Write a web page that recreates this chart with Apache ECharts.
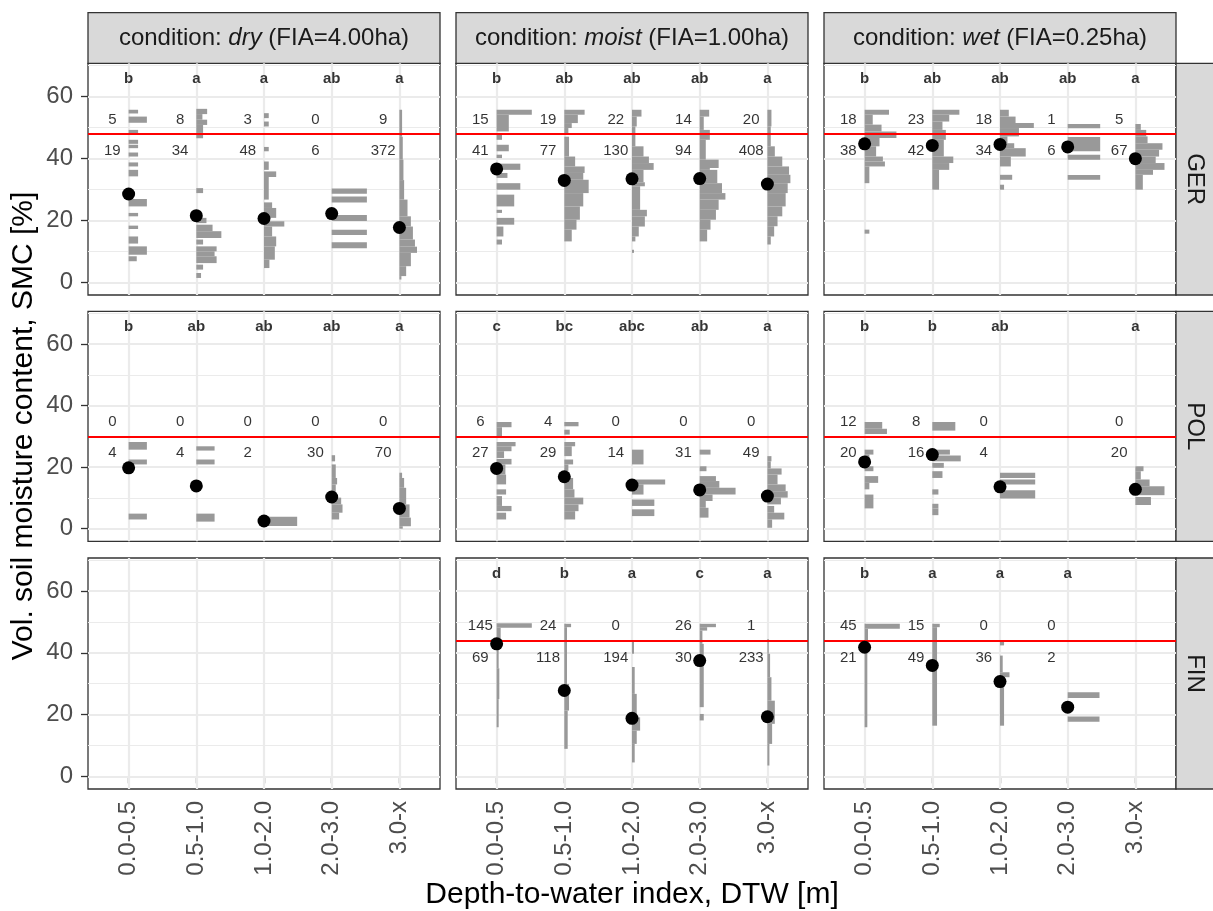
<!DOCTYPE html>
<html>
<head>
<meta charset="utf-8">
<script src="https://cdn.jsdelivr.net/npm/echarts@6/dist/echarts.min.js"></script>
<style>
  html, body { margin: 0; padding: 0; background: #fff; }
  #chart { width: 1213px; height: 911px; }
</style>
</head>
<body>
<div id="chart"></div>
<script>
// categories and facets
const dtwClasses = ['0.0-0.5', '0.5-1.0', '1.0-2.0', '2.0-3.0', '3.0-x'];
const regions = ['GER', 'POL', 'FIN'];
const conditions = ['dry', 'moist', 'wet'];
const fiaAreas = ['4.00ha', '1.00ha', '0.25ha'];
const thresholds = [48, 30, 44]; // SMC threshold per region (red line)
const yTicks = [0, 20, 40, 60];
const yMinor = [10, 30, 50, 70];

// medians (black dots)
const medGERdry = [28.5, 21.5, 20.6, 22.2, 17.7];
const medGERmoist = [36.6, 32.9, 33.4, 33.5, 31.7];
const medGERwet = [44.7, 44.2, 44.5, 43.7, 39.9];
const medPOLdry = [19.8, 13.9, 2.5, 10.3, 6.6];
const medPOLmoist = [19.6, 16.9, 14.2, 12.6, 10.6];
const medPOLwet = [21.7, 24.1, 13.6, null, 12.8];
const medFINmoist = [42.9, 27.8, 18.8, 37.5, 19.3];
const medFINwet = [41.8, 35.9, 30.7, 22.4, null];

// group letters
const letGERdry = ['b', 'a', 'a', 'ab', 'a'];
const letGERmoist = ['b', 'ab', 'ab', 'ab', 'a'];
const letGERwet = ['b', 'ab', 'ab', 'ab', 'a'];
const letPOLdry = ['b', 'ab', 'ab', 'ab', 'a'];
const letPOLmoist = ['c', 'bc', 'abc', 'ab', 'a'];
const letPOLwet = ['b', 'b', 'ab', null, 'a'];
const letFINmoist = ['d', 'b', 'a', 'c', 'a'];
const letFINwet = ['b', 'a', 'a', 'a', null];

// counts above / below threshold
const aboveGERdry = [5, 8, 3, 0, 9];
const belowGERdry = [19, 34, 48, 6, 372];
const aboveGERmoist = [15, 19, 22, 14, 20];
const belowGERmoist = [41, 77, 130, 94, 408];
const aboveGERwet = [18, 23, 18, 1, 5];
const belowGERwet = [38, 42, 34, 6, 67];
const abovePOLdry = [0, 0, 0, 0, 0];
const belowPOLdry = [4, 4, 2, 30, 70];
const abovePOLmoist = [6, 4, 0, 0, 0];
const belowPOLmoist = [27, 29, 14, 31, 49];
const abovePOLwet = [12, 8, 0, null, 0];
const belowPOLwet = [20, 16, 4, null, 20];
const aboveFINmoist = [145, 24, 0, 26, 1];
const belowFINmoist = [69, 118, 194, 30, 233];
const aboveFINwet = [45, 15, 0, 0, null];
const belowFINwet = [21, 49, 36, 2, null];

// histograms: per class, bins [smcLow, smcHigh, relative length (1/100 of class spacing)]
const histGERdry = [
  [[54.5,55.7,14],[51.5,53.5,27],[48,49.2,14],[44.7,46,14],[43.3,44.4,14],[40.6,41.9,14],[37.4,38.7,14],[34.2,36.3,14],[24.5,26.9,27],[21.3,22.4,14],[17.2,18.3,14],[12.5,14.8,14],[8.9,11.6,27],[6.8,8.4,12]],
  [[54.3,56,16],[52.5,54.3,9],[50.8,52.5,16],[48.5,50.8,10],[46.5,48.5,10],[28.8,30.4,10],[19.1,20.8,15],[16.5,18.6,24],[14.3,16.5,37],[12.2,13.8,10],[10,11.6,30],[8.4,10,27],[6.2,8.4,30],[4.1,5.7,10],[1.4,3,7]],
  [[53,54.6,7],[50.3,51.9,7],[42.3,43.7,7],[36.3,39,7],[34,35.8,18],[26.7,34,7],[24,25.8,12],[20.8,24,18],[18,19.7,30],[14.8,18,12],[11.6,14.8,18],[7.3,11.6,16],[4.6,7.3,8]],
  [[28.6,30.3,52],[25.8,27.7,52],[19.8,21.7,52],[15.3,17,52],[11,12.9,52]],
  [[47,55.7,4],[39.6,47,5],[33,39.6,6],[26.7,33,7],[21.3,26.7,12],[18,21.3,17],[13.8,18,20],[11.5,13.8,23],[9.5,11.5,26],[5.2,9.5,17],[2,5.2,10],[0.9,2,3]]
];
const histGERmoist = [
  [[54.1,55.7,52],[48.7,54.1,18],[46,47.6,8],[42.3,44.4,18],[40.1,41.2,8],[36.3,38.3,35],[33.7,35.3,16],[29.9,32,35],[24.5,28.3,26],[22.4,23.4,8],[18.6,20.8,26],[14.8,18,10],[12.2,13.8,8]],
  [[54.1,55.7,30],[51.4,54.1,20],[49.8,51.4,11],[47.6,49.8,6],[40.6,47,7],[37.4,40.6,16],[35.3,37.4,30],[33.1,35.3,28],[28.8,33.1,36],[24.5,28.8,28],[20.2,24.5,23],[17,20.2,18],[13.2,17,11]],
  [[53.5,55.7,14],[50.3,53.5,7],[43.9,50.3,5],[40.6,43.9,17],[38.5,40.6,25],[36.3,38.5,32],[32.3,36.3,17],[31,32.3,19],[23.4,31,12],[21.3,23.4,22],[18,21.3,19],[14.8,18,10],[13.2,14.8,5],[9.5,10.5,3]],
  [[53.5,55.7,14],[49.2,53.5,6],[46,49.2,15],[39.6,46,9],[36.9,39.6,28],[36.3,36.9,15],[32,36.3,26],[28.8,32,33],[26.7,28.8,38],[23.4,26.7,28],[20.2,23.4,24],[17,20.2,16],[13.2,17,11]],
  [[50.3,55.7,6],[43.9,50.3,5],[40.6,43.9,11],[37.4,40.6,22],[34.7,37.4,32],[32,34.7,34],[28.8,32,30],[24.5,28.8,27],[21.3,24.5,22],[18.1,21.3,15],[14.8,18.1,10],[12.2,14.8,5]]
];
const histGERwet = [
  [[54.1,55.7,36],[50.9,54.1,12],[48.7,50.9,25],[46.6,48.7,47],[43.9,46.6,22],[40.6,43.9,17],[39,40.6,27],[37.4,39,30],[32,37.4,7],[15.7,17,7]],
  [[54.1,55.7,40],[51.9,54.1,25],[49.2,51.9,15],[46,49.2,20],[40.6,46,17],[38.5,40.6,31],[36.3,38.5,25],[29.9,36.3,10]],
  [[53.5,55.7,13],[51.4,53.5,23],[49.8,51.4,50],[47.1,49.8,28],[44.9,47.1,11],[43.3,44.9,21],[40.6,43.3,38],[37.4,40.6,16],[33.1,34.7,18],[29.9,31.5,6]],
  [[49.7,51.1,48],[42.3,46.9,48],[39.6,41.2,48],[33.1,34.6,48]],
  [[49.2,51.1,8],[47.1,49.2,16],[44.9,47.1,18],[42.8,44.9,40],[40.6,42.8,35],[38.5,40.6,30],[36.3,38.5,43],[34.7,36.3,26],[29.9,34.7,11]]
];
const histPOLdry = [
  [[25.7,28.2,27],[20.9,22.5,27],[3,4.9,27]],
  [[25.4,26.8,27],[20.9,22.5,27],[2.3,4.9,27]],
  [[0.9,3.9,49]],
  [[21.9,23.9,5],[16.5,20.9,6],[14.4,16.5,8],[10.1,14.4,6],[7.9,10.1,14],[5.2,7.9,16],[3,5.2,11]],
  [[16.5,18.2,4],[13.3,16.5,7],[7.9,13.3,10],[3.6,7.9,15],[0.8,3.6,17],[0,0.8,5]]
];
const histPOLmoist = [
  [[33,34.7,22],[30,33,8],[26.8,28.2,28],[25.2,26.8,22],[23,25.2,11],[20.9,22.7,22],[17.6,20.9,13],[14.4,17.6,14],[11.1,12.8,14],[7.4,10.6,8],[5.7,7.4,22],[3,5.2,14]],
  [[33.3,34.7,21],[30.6,32.2,8],[26.8,28.2,16],[23.6,26.8,11],[20.9,22.5,13],[18.7,20.9,6],[12.8,16.5,13],[10.1,12.8,15],[7.9,10.1,28],[5.7,7.9,21],[3,5.7,16]],
  [[20.9,25.7,17],[14.4,16,49],[11.1,14.4,17],[7.4,9.5,33],[4.1,6.3,33]],
  [[24.1,25.7,16],[18.7,20.3,10],[15.5,17.1,24],[13.3,15.5,29],[11.1,13.3,53],[9,11.1,19],[6.8,9,9],[3.6,6.8,13]],
  [[21.9,23.6,6],[19.6,21.9,5],[17.6,19.6,21],[14.4,17.6,15],[12.2,14.4,27],[10.1,12.2,30],[7.9,10.1,20],[5.2,7.4,10],[3,5.2,25],[0.3,3,7]]
];
const histPOLwet = [
  [[32.5,34.7,26],[30.8,32.5,33],[24.1,25.7,13],[20.9,24.1,7],[18.7,20.3,13],[14.9,17.1,20],[12.8,14.9,7],[6.6,11.1,13]],
  [[31.9,34.7,34],[24.1,25.7,26],[21.9,23.8,42],[19.8,21.4,17],[16.5,18.7,15],[11.1,12.8,9],[6.6,8.1,9],[4.4,6.6,9]],
  [[16.5,18.2,52],[14.4,16,52],[9.8,12.5,52]],
  [],
  [[18.7,20.3,12],[16,18.7,8],[13.8,16,21],[10.9,13.8,43],[7.7,10.3,23]]
];
const histFINmoist = [
  [[48.1,49.6,52],[44,48.1,6],[35,44,3],[25,35,4],[15.9,25,3]],
  [[48.3,49.4,10],[44,48.3,4],[29.9,44,4],[21.3,29.9,7],[8.9,21.3,5]],
  [[39.7,44,3],[26.7,35.4,4],[19.1,26.7,7],[14.8,19.1,12],[10.5,14.8,7],[4.5,10.5,4]],
  [[48.3,49.4,24],[47.2,48.3,11],[42.9,47.2,4],[22.4,42.9,6],[18.1,20.2,6]],
  [[39.7,44.5,2],[32.1,39.7,4],[24.5,32.1,6],[17,24.5,11],[10.5,17,7],[3.5,10.5,3]]
];
const histFINwet = [
  [[47.8,49.4,52],[44,47.8,5],[15.9,44,4]],
  [[48.3,49.4,11],[16.4,48.3,7]],
  [[42.4,43.5,6],[33.7,39.1,4],[32.1,33.7,14],[16.4,32.1,6]],
  [[25.4,27.2,47],[17.7,19.4,47]],
  []
];

// facet table built from the arrays above
const panels = [
  { row: 0, col: 0, med: medGERdry, let: letGERdry, above: aboveGERdry, below: belowGERdry, hist: histGERdry },
  { row: 0, col: 1, med: medGERmoist, let: letGERmoist, above: aboveGERmoist, below: belowGERmoist, hist: histGERmoist },
  { row: 0, col: 2, med: medGERwet, let: letGERwet, above: aboveGERwet, below: belowGERwet, hist: histGERwet },
  { row: 1, col: 0, med: medPOLdry, let: letPOLdry, above: abovePOLdry, below: belowPOLdry, hist: histPOLdry },
  { row: 1, col: 1, med: medPOLmoist, let: letPOLmoist, above: abovePOLmoist, below: belowPOLmoist, hist: histPOLmoist },
  { row: 1, col: 2, med: medPOLwet, let: letPOLwet, above: abovePOLwet, below: belowPOLwet, hist: histPOLwet },
  { row: 2, col: 0, med: null },
  { row: 2, col: 1, med: medFINmoist, let: letFINmoist, above: aboveFINmoist, below: belowFINmoist, hist: histFINmoist },
  { row: 2, col: 2, med: medFINwet, let: letFINwet, above: aboveFINwet, below: belowFINwet, hist: histFINwet }
];

// layout (px)
const FONT = 'Liberation Sans, Arial, Helvetica, sans-serif';
const colLeft = [88, 456, 824];
const panelW = 352;
const rowTop = [63.3, 311.3, 558];
const rowH = [231.7, 230, 231];
const stripTop = 12.7, stripH = 50.6;

const chart = echarts.init(document.getElementById('chart'), null, { renderer: 'canvas' });

function renderBar(params, api) {
  const x = api.value(0);
  const p0 = api.coord([x, api.value(2)]);
  const p1 = api.coord([x + api.value(3) / 100, api.value(1)]);
  return {
    type: 'rect',
    shape: { x: p0[0], y: p0[1], width: p1[0] - p0[0], height: p1[1] - p0[1] },
    style: { fill: '#999999' }
  };
}

const gridLineData = [];
yTicks.forEach(v => gridLineData.push({ yAxis: v, lineStyle: { color: '#ebebeb', width: 2.2, type: 'solid' } }));
yMinor.forEach(v => gridLineData.push({ yAxis: v, lineStyle: { color: '#ebebeb', width: 1.1, type: 'solid' } }));
dtwClasses.forEach((c, k) => gridLineData.push({ xAxis: k + 1, lineStyle: { color: '#ebebeb', width: 2.2, type: 'solid' } }));

const grids = [], xAxes = [], yAxes = [], series = [];

panels.forEach((p, i) => {
  grids.push({
    left: colLeft[p.col], top: rowTop[p.row], width: panelW, height: rowH[p.row],
    show: true, borderColor: '#333333', borderWidth: 1.3, backgroundColor: '#ffffff'
  });
  const bottom = p.row === 2, left = p.col === 0;
  xAxes.push({
    gridIndex: i, type: 'value', min: 0.4, max: 5.6,
    axisLine: { show: false }, splitLine: { show: false },
    axisTick: { show: bottom, customValues: [1, 2, 3, 4, 5], length: 7, lineStyle: { color: '#333333', width: 1.3 } },
    axisLabel: {
      show: bottom, customValues: [1, 2, 3, 4, 5], rotate: 90, margin: 12,
      fontSize: 24, color: '#4d4d4d', fontFamily: FONT,
      formatter: v => dtwClasses[Math.round(v) - 1] || ''
    }
  });
  yAxes.push({
    gridIndex: i, type: 'value', min: -4.1, max: 70.7,
    axisLine: { show: false }, splitLine: { show: false },
    axisTick: { show: left, customValues: yTicks, length: 7, lineStyle: { color: '#333333', width: 1.3 } },
    axisLabel: { show: left, customValues: yTicks, margin: 15, fontSize: 24, color: '#4d4d4d', fontFamily: FONT }
  });

  // background grid lines
  series.push({
    type: 'line', xAxisIndex: i, yAxisIndex: i, data: [], silent: true, z: 1,
    markLine: { z: 1, silent: true, symbol: ['none', 'none'], label: { show: false }, emphasis: { disabled: true }, data: gridLineData }
  });

  if (!p.med) return;
  const thr = thresholds[p.row];

  const barData = [];
  p.hist.forEach((bins, k) => bins.forEach(b => barData.push([k + 1, b[0], b[1], b[2]])));
  series.push({
    type: 'custom', xAxisIndex: i, yAxisIndex: i, z: 2, silent: true,
    renderItem: renderBar, data: barData,
    markLine: {
      z: 3, silent: true, symbol: ['none', 'none'], label: { show: false }, emphasis: { disabled: true },
      data: [{ yAxis: thr, lineStyle: { color: '#ff0000', width: 2.2, type: 'solid' } }]
    }
  });

  series.push({
    type: 'scatter', xAxisIndex: i, yAxisIndex: i, z: 4, symbolSize: 13,
    itemStyle: { color: '#000000', opacity: 1 },
    data: p.med.map((m, k) => m == null ? null : [k + 1, m]).filter(d => d)
  });

  const textData = [];
  p.let.forEach((t, k) => { if (t) textData.push({ value: [k + 1, 65.7], name: t, label: { fontWeight: 'bold', color: '#000000' } }); });
  p.above.forEach((n, k) => { if (n != null) textData.push({ value: [k + 1 - 0.24, thr + 4.6], name: String(n) }); });
  p.below.forEach((n, k) => { if (n != null) textData.push({ value: [k + 1 - 0.24, thr - 5.5], name: String(n) }); });
  series.push({
    type: 'scatter', xAxisIndex: i, yAxisIndex: i, z: 5, symbolSize: 1,
    itemStyle: { color: 'rgba(0,0,0,0)' },
    label: { show: true, position: 'inside', formatter: '{b}', fontSize: 15, color: '#000000', fontFamily: FONT },
    data: textData
  });
});

// strips and axis titles
const graphics = [];
conditions.forEach((cond, c) => {
  graphics.push({
    type: 'rect', shape: { x: colLeft[c], y: stripTop, width: panelW, height: stripH },
    style: { fill: '#d9d9d9', stroke: '#333333', lineWidth: 1.3 }
  });
  graphics.push({
    type: 'text', x: colLeft[c] + panelW / 2, y: stripTop + stripH / 2,
    style: {
      text: '{n|condition: }{i|' + cond + '}{n| (FIA=' + fiaAreas[c] + ')}',
      rich: {
        n: { fontSize: 24, fontFamily: FONT, fill: '#1a1a1a' },
        i: { fontSize: 24, fontFamily: FONT, fontStyle: 'italic', fill: '#1a1a1a' }
      },
      align: 'center', verticalAlign: 'middle'
    }
  });
});
regions.forEach((reg, r) => {
  graphics.push({
    type: 'rect', shape: { x: colLeft[2] + panelW, y: rowTop[r], width: 50, height: rowH[r] },
    style: { fill: '#d9d9d9', stroke: '#333333', lineWidth: 1.3 }
  });
  graphics.push({
    type: 'text', x: 1195, y: rowTop[r] + rowH[r] / 2, rotation: -Math.PI / 2,
    style: { text: reg, fontSize: 24, fontFamily: FONT, fill: '#1a1a1a', align: 'center', verticalAlign: 'middle' }
  });
});
graphics.push({
  type: 'text', x: 24, y: 426, rotation: Math.PI / 2,
  style: { text: 'Vol. soil moisture content, SMC [%]', fontSize: 30, fontFamily: FONT, fill: '#000000', align: 'center', verticalAlign: 'middle' }
});
graphics.push({
  type: 'text', x: 632, y: 895,
  style: { text: 'Depth-to-water index, DTW [m]', fontSize: 30, fontFamily: FONT, fill: '#000000', align: 'center', verticalAlign: 'middle' }
});

chart.setOption({
  animation: false,
  backgroundColor: '#ffffff',
  textStyle: { fontFamily: FONT },
  grid: grids,
  xAxis: xAxes,
  yAxis: yAxes,
  series: series,
  graphic: { elements: graphics }
});
</script>
</body>
</html>
